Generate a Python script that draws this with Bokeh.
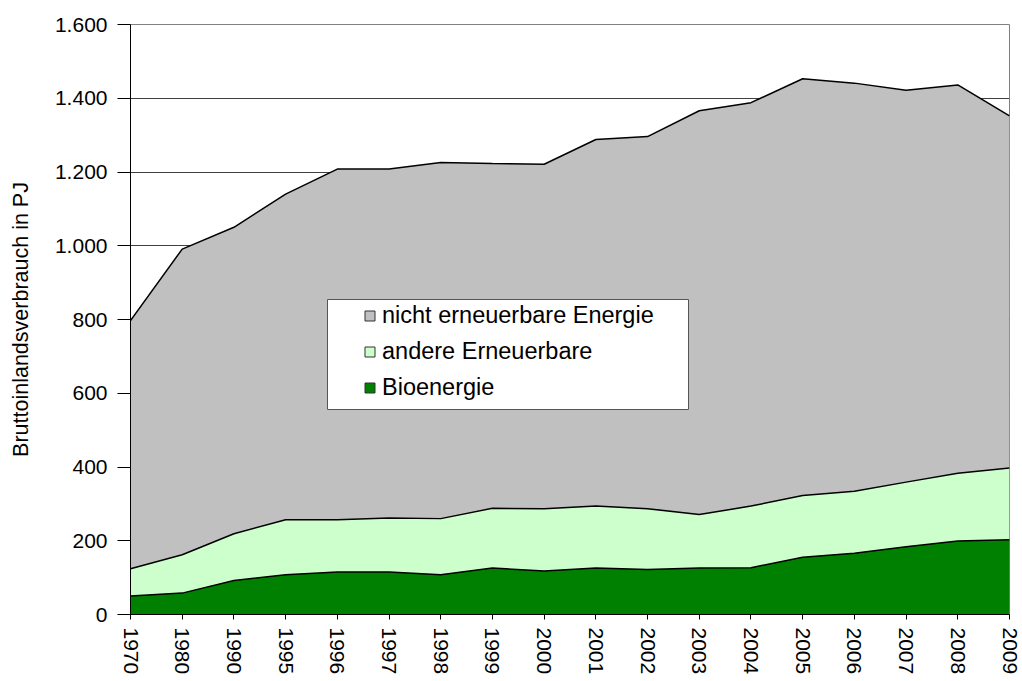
from bokeh.plotting import figure
from bokeh.models import (ColumnDataSource, Range1d, FixedTicker, Legend, LegendItem,
                          BoxAnnotation)
from bokeh.embed import file_html
from bokeh.resources import INLINE

years = ["1970", "1980", "1990", "1995", "1996", "1997", "1998", "1999", "2000",
         "2001", "2002", "2003", "2004", "2005", "2006", "2007", "2008", "2009"]
bioenergie = [50, 58, 92, 108, 115, 115, 108, 126, 118, 126, 122, 126, 127, 155, 166, 184, 199, 203]
andere_erneuerbare = [74, 104, 127, 149, 142, 147, 152, 162, 169, 168, 165, 145, 167, 168, 168, 175, 184, 194]
nicht_erneuerbar = [673, 829, 831, 883, 951, 946, 966, 935, 934, 994, 1009, 1095, 1094, 1130, 1107, 1063, 1053, 955]
y_ticks = [0, 200, 400, 600, 800, 1000, 1200, 1400, 1600]
y_tick_labels = ["0", "200", "400", "600", "800", "1.000", "1.200", "1.400", "1.600"]
series_names = ["nicht erneuerbare Energie", "andere Erneuerbare", "Bioenergie"]

FONT = "Liberation Sans"
C_BIO = "#008000"
C_OTHER = "#CCFFCC"
C_NON = "#C0C0C0"

x_idx = list(range(len(years)))
source = ColumnDataSource(dict(x=x_idx, bio=bioenergie, other=andere_erneuerbare,
                               non=nicht_erneuerbar))

p = figure(frame_width=879, frame_height=590, output_backend="svg", toolbar_location=None,
           x_range=Range1d(0, len(years) - 1), y_range=Range1d(0, 1600),
           min_border_left=130, min_border_top=24, min_border_right=13, min_border_bottom=64,
           background_fill_color="white", border_fill_color="white")

p.varea_stack(["bio", "other", "non"], x="x", color=[C_BIO, C_OTHER, C_NON], source=source)
p.vline_stack(["bio", "other", "non"], x="x", color="black", line_width=1.5, source=source)

# axes
p.xaxis.ticker = FixedTicker(ticks=x_idx)
p.xaxis.major_label_overrides = {i: y for i, y in zip(x_idx, years)}
p.xaxis.major_label_orientation = "vertical"
p.xaxis.minor_tick_line_color = None
p.xaxis.major_tick_in = 0
p.xaxis.major_tick_out = 5
p.xaxis.major_label_standoff = 8
p.xaxis.axis_line_color = "black"
p.xaxis.major_tick_line_color = "black"

p.yaxis.ticker = FixedTicker(ticks=y_ticks)
p.yaxis.major_label_overrides = {t: l for t, l in zip(y_ticks, y_tick_labels)}
p.yaxis.minor_tick_line_color = None
p.yaxis.major_tick_in = 0
p.yaxis.major_tick_out = 13
p.yaxis.major_label_standoff = 10
p.yaxis.axis_line_color = "black"
p.yaxis.major_tick_line_color = "black"
p.yaxis.axis_label = "Bruttoinlandsverbrauch in PJ"
p.yaxis.axis_label_standoff = 19
p.yaxis.axis_label_text_font = FONT
p.yaxis.axis_label_text_font_size = "21.5px"
p.yaxis.axis_label_text_font_style = "normal"
p.yaxis.axis_label_text_color = "black"

for ax in (p.xaxis, p.yaxis):
    ax.major_label_text_font = FONT
    ax.major_label_text_font_size = "21px"
    ax.major_label_text_color = "black"

p.xgrid.grid_line_color = None
p.ygrid.ticker = FixedTicker(ticks=y_ticks)
p.ygrid.grid_line_color = "#404040"
p.ygrid.grid_line_width = 1
p.outline_line_color = "#808080"
p.outline_line_width = 1

# legend
box = BoxAnnotation(left=197, right=558, bottom=205, top=315,
                    left_units="screen", right_units="screen",
                    bottom_units="screen", top_units="screen",
                    fill_color="white", fill_alpha=1.0, line_color="#555555",
                    line_width=1, line_alpha=1.0)
p.add_layout(box)

r_non = p.scatter(x="x", y="bio", source=source, marker="square",
                  fill_color=C_NON, line_color="#333333", visible=False)
r_other = p.scatter(x="x", y="bio", source=source, marker="square",
                    fill_color=C_OTHER, line_color="#333333", visible=False)
r_bio = p.scatter(x="x", y="bio", source=source, marker="square",
                  fill_color=C_BIO, line_color="#333333", visible=False)

legend = Legend(items=[LegendItem(label=series_names[0], renderers=[r_non]),
                       LegendItem(label=series_names[1], renderers=[r_other]),
                       LegendItem(label=series_names[2], renderers=[r_bio])],
                location=(222, 208), padding=5, glyph_width=25, glyph_height=25,
                label_standoff=0, spacing=9, label_height=25,
                label_text_font=FONT, label_text_font_size="23.5px",
                label_text_color="black", click_policy="none",
                border_line_alpha=0, background_fill_alpha=0)
p.add_layout(legend)

open("out.html", "w").write(file_html(p, INLINE))
